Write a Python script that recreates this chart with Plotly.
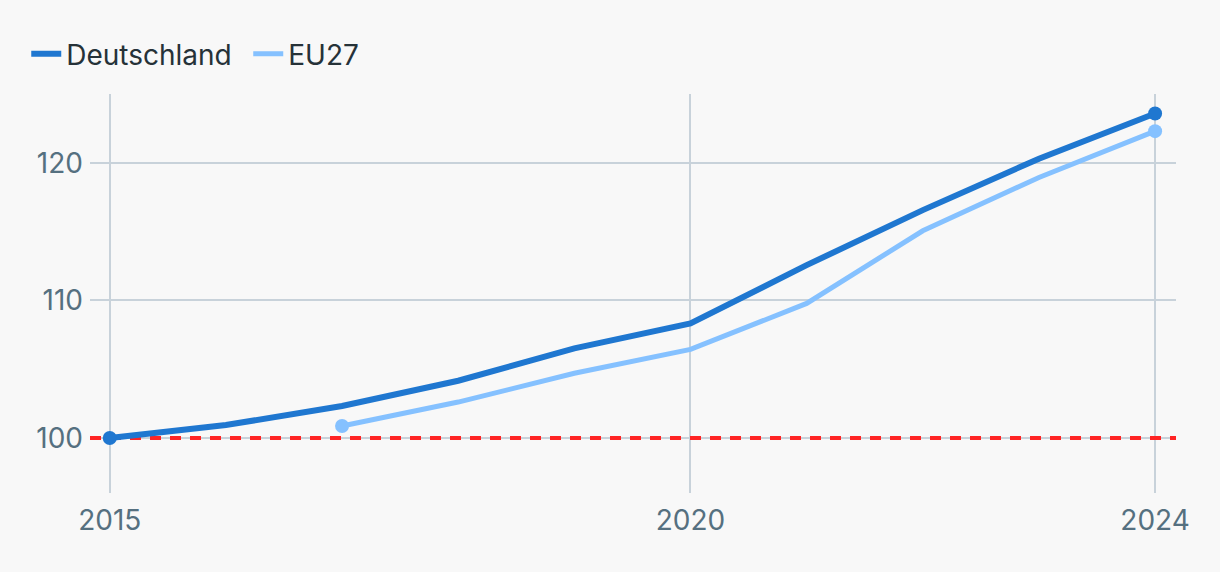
import plotly.graph_objects as go

# data (index 2015 = 100)
years = [2015, 2016, 2017, 2018, 2019, 2020, 2021, 2022, 2023, 2024]
de_values = [100, 100.94, 102.32, 104.16, 106.51, 108.33, 112.56, 116.56, 120.3, 123.58]
eu_years = [2017, 2018, 2019, 2020, 2021, 2022, 2023, 2024]
eu_values = [100.87, 102.61, 104.7, 106.44, 109.78, 115.06, 118.93, 122.3]
x_ticks = [2015, 2020, 2024]
y_ticks = [100, 110, 120]
baseline = 100
x_range = [2014.83, 2024.18]
y_range = [96, 125]

DE_COLOR = "#1f77d0"
EU_COLOR = "#85c1ff"
GRID = "#c8d2da"
TICK_COLOR = "#557080"

fig = go.Figure()

# red reference line at 100, drawn first so it sits under the series
fig.add_trace(go.Scatter(
    x=x_range, y=[baseline, baseline], mode="lines",
    line=dict(color="#ff2424", width=4, dash="11px,9px"),
    showlegend=False, hoverinfo="skip",
))

for name, xs, ys, color, width in [
    ("Deutschland", years, de_values, DE_COLOR, 6),
    ("EU27", eu_years, eu_values, EU_COLOR, 5),
]:
    fig.add_trace(go.Scatter(
        x=xs, y=ys, name=name, mode="lines", legendgroup=name,
        line=dict(color=color, width=width),
    ))
    # dots on the first and last point only
    fig.add_trace(go.Scatter(
        x=[xs[0], xs[-1]], y=[ys[0], ys[-1]], mode="markers",
        marker=dict(size=14, color=color), legendgroup=name,
        showlegend=False,
    ))

fig.update_layout(
    width=1220, height=572,
    margin=dict(l=90, r=44, t=94, b=79),
    paper_bgcolor="#f8f8f8",
    plot_bgcolor="#f8f8f8",
    font=dict(family="Inter", size=28, color=TICK_COLOR),
    showlegend=True,
    legend=dict(
        orientation="h", x=-0.0587, y=1.1, xanchor="left", yanchor="middle",
        font=dict(size=28, color="#263238"),
        itemwidth=30, entrywidth=177, bgcolor="rgba(0,0,0,0)",
    ),
    hovermode=False,
)
fig.update_xaxes(
    range=x_range, tickvals=x_ticks,
    showgrid=True, gridcolor=GRID, gridwidth=2,
    zeroline=False, showline=False, ticks="",
    ticklabelstandoff=8,
)
fig.update_yaxes(
    range=y_range, tickvals=y_ticks,
    showgrid=True, gridcolor=GRID, gridwidth=2,
    zeroline=False, showline=False, ticks="",
    ticklabelstandoff=6,
)

fig.write_html(
    "out.html",
    config={"displayModeBar": False},
    post_script="document.body.style.margin='0';",
)
